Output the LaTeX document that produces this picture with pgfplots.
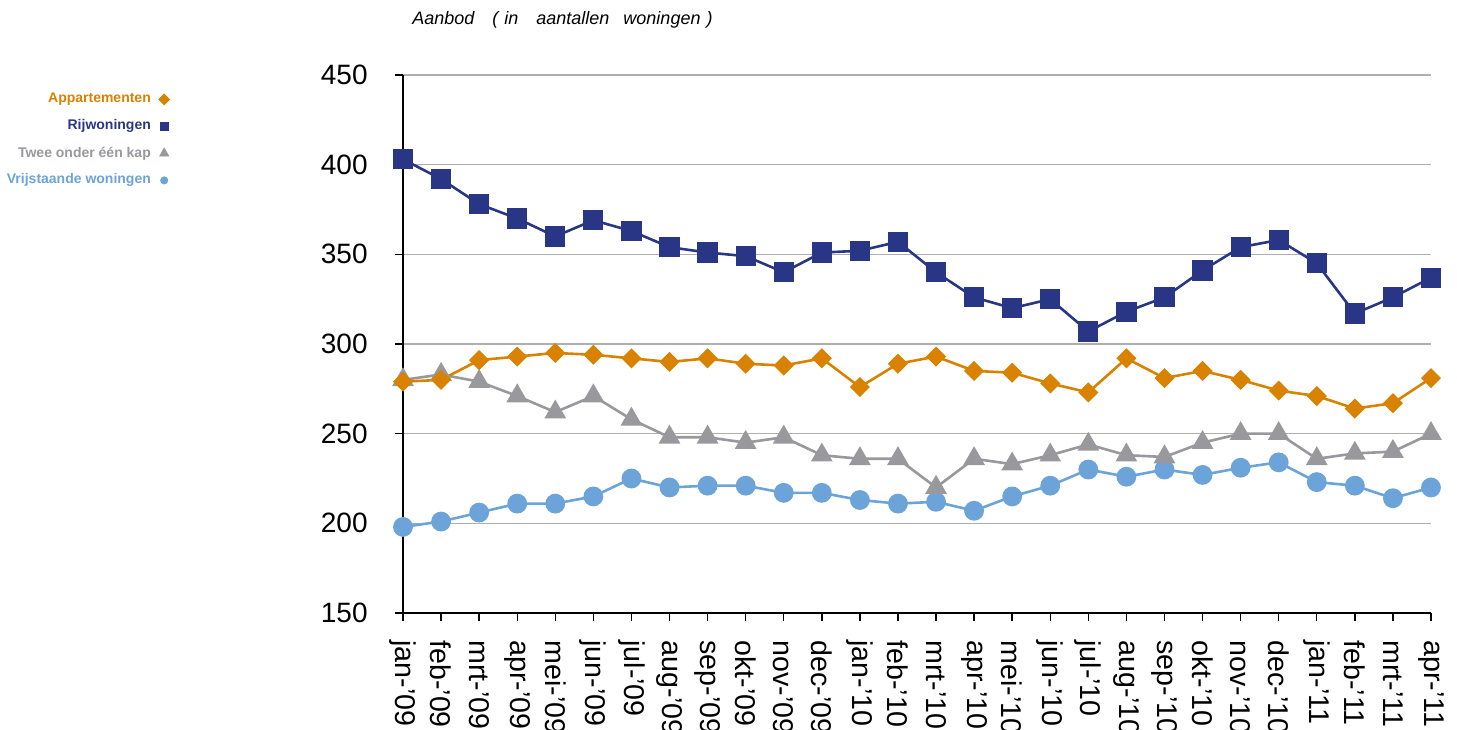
\documentclass[border=0pt]{standalone}
\usepackage{pgfplots}
\pgfplotsset{compat=1.18}
\usepackage{pgfplotstable}
\usepackage{fontspec}
\setmainfont{Liberation Sans}
\definecolor{rij}{RGB}{40,54,133}
\definecolor{app}{RGB}{217,130,0}
\definecolor{twee}{RGB}{152,152,157}
\definecolor{vrij}{RGB}{108,164,217}
\definecolor{gridc}{RGB}{175,175,175}

\pgfplotstableread{
x app rij twee vrij
0  279 403 280 198
1  280 392 283 201
2  291 378 279 206
3  293 370 271 211
4  295 360 262 211
5  294 369 271 215
6  292 363 258 225
7  290 354 248 220
8  292 351 248 221
9  289 349 245 221
10 288 340 248 217
11 292 351 238 217
12 276 352 236 213
13 289 357 236 211
14 293 340 220 212
15 285 326 236 207
16 284 320 233 215
17 278 325 238 221
18 273 307 244 230
19 292 318 238 226
20 281 326 237 230
21 285 341 245 227
22 280 354 250 231
23 274 358 250 234
24 271 345 236 223
25 264 317 239 221
26 267 326 240 214
27 281 337 250 220
}\data

\begin{document}
\begin{tikzpicture}
\useasboundingbox (-201.5pt,-58pt) rectangle (527pt,306.5pt);
\begin{axis}[
  name=ax, at={(0,0)}, anchor=south west,
  scale only axis, width=514pt, height=269pt,
  xmin=0, xmax=27, ymin=150, ymax=450,
  clip=false,
  axis x line*=bottom, axis y line*=left,
  axis line style={black, line width=0.9pt},
  tick align=outside, major tick length=4pt,
  tick style={black, line width=0.7pt},
  ytick={150,200,...,450},
  ymajorgrids, grid style={gridc, line width=0.75pt},
  xtick={0,...,27},
  xticklabels={jan-’09,feb-’09,mrt-’09,apr-’09,mei-’09,jun-’09,jul-’09,aug-’09,sep-’09,okt-’09,nov-’09,dec-’09,jan-’10,feb-’10,mrt-’10,apr-’10,mei-’10,jun-’10,jul-’10,aug-’10,sep-’10,okt-’10,nov-’10,dec-’10,jan-’11,feb-’11,mrt-’11,apr-’11},
  xticklabel style={rotate=-90, anchor=west, font=\fontsize{14.3}{16}\selectfont, inner sep=0pt, xshift=9.5pt},
  yticklabel style={font=\fontsize{14}{16}\selectfont, inner sep=0pt, xshift=-13.5pt},
  /pgf/number format/assume math mode=true,
  legend plot pos=right,
  legend cell align=right,
  legend style={at={(rel axis cs:0,1)}, anchor=north east, xshift=-116.5pt, yshift=-5.25pt,
    draw=none, fill=none, inner sep=0pt, column sep=4pt, row sep=0pt,
    font=\fontsize{7}{8}\selectfont\bfseries,
    nodes={inner sep=0pt, minimum height=13.5pt}},
]
\addlegendimage{only marks, mark=square*, mark options={rotate=45}, mark size=1.9pt, app}
\addlegendentry{\textcolor{app}{Appartementen}}
\addlegendimage{only marks, mark=square*, mark size=2.1pt, rij}
\addlegendentry{\textcolor{rij}{Rijwoningen}}
\addlegendimage{only marks, mark=triangle*, mark size=2.6pt, twee}
\addlegendentry{\textcolor{twee}{Twee onder één kap}}
\addlegendimage{only marks, mark=*, mark size=1.8pt, vrij}
\addlegendentry{\textcolor{vrij}{Vrijstaande woningen}}

\addplot[forget plot, vrij, line width=1.3pt, mark=*, mark size=4.3pt] table[x=x,y=vrij]{\data};
\addplot[forget plot, twee, line width=1.3pt, mark=triangle*, mark size=5pt] table[x=x,y=twee]{\data};
\addplot[forget plot, app, line width=1.3pt, mark=square*, mark options={rotate=45}, mark size=2.9pt] table[x=x,y=app]{\data};
\addplot[forget plot, rij, line width=1.3pt, mark=square*, mark size=4.4pt] table[x=x,y=rij]{\data};
\end{axis}
\node[anchor=west, inner sep=0pt, font=\fontsize{9}{10}\selectfont\itshape] at (4.5pt,296.5pt)
  {Aanbod\hspace{9pt}(\hspace{3pt}in\hspace{9pt}aantallen\hspace{7pt}woningen\hspace{3pt})};
\end{tikzpicture}
\end{document}
